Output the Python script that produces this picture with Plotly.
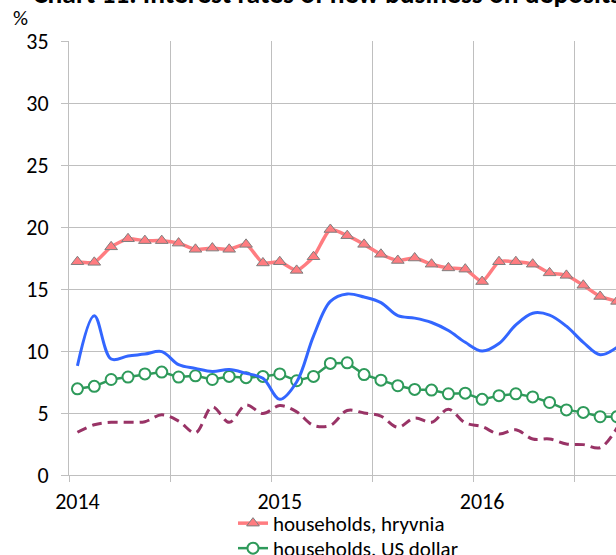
import plotly.graph_objects as go

# Monthly observations, January 2014 onward (x = month index)
months = list(range(33))
year_ticks = [0, 12, 24]
year_labels = ["2014", "2015", "2016"]

hh_uah = [17.2, 17.15, 18.4, 19.05, 18.9, 18.9, 18.7, 18.2, 18.3, 18.2, 18.6,
          17.1, 17.2, 16.5, 17.6, 19.8, 19.3, 18.6, 17.8, 17.3, 17.5, 17.0,
          16.7, 16.6, 15.6, 17.2, 17.2, 17.0, 16.3, 16.1, 15.3, 14.4, 14.0]
hh_usd = [6.95, 7.15, 7.7, 7.9, 8.15, 8.3, 7.9, 8.0, 7.7, 7.95, 7.85,
          7.95, 8.15, 7.6, 7.95, 9.0, 9.05, 8.1, 7.65, 7.2, 6.9, 6.85,
          6.55, 6.6, 6.1, 6.4, 6.55, 6.3, 5.85, 5.25, 5.05, 4.7, 4.7]
corp_uah = [8.8, 12.85, 9.35, 9.6, 9.75, 9.95, 8.9, 8.6, 8.35, 8.5, 8.2,
            7.8, 6.1, 7.5, 11.2, 14.0, 14.6, 14.35, 13.9, 12.85, 12.65, 12.3,
            11.65, 10.7, 10.0, 10.6, 12.1, 13.05, 12.9, 12.0, 10.7, 9.7, 10.3]
corp_usd = [3.45, 4.05, 4.25, 4.25, 4.3, 4.85, 4.35, 3.4, 5.5, 4.25, 5.65,
            4.95, 5.6, 5.1, 4.0, 4.0, 5.2, 5.0, 4.75, 3.85, 4.6, 4.25,
            5.3, 4.2, 3.9, 3.3, 3.65, 2.9, 2.9, 2.5, 2.45, 2.2, 3.8]

FONT = "Carlito, Lato, sans-serif"
GRID = "#BFBFBF"
LEG_FONT = dict(family=FONT, size=21, color="black")

fig = go.Figure()

fig.add_trace(go.Scatter(
    x=months, y=hh_uah, name="households, hryvnia", legend="legend",
    mode="lines+markers",
    line=dict(color="#FF7C80", width=3.5, shape="spline", smoothing=0.6),
    marker=dict(symbol="triangle-up", size=11, color="#FF7C80",
                line=dict(color="#7F7F7F", width=1)),
))
fig.add_trace(go.Scatter(
    x=months, y=hh_usd, name="households, US dollar", legend="legend2",
    mode="lines+markers",
    line=dict(color="#2E9A5A", width=2.5),
    marker=dict(symbol="circle", size=11, color="white",
                line=dict(color="#2E9A5A", width=2)),
))
fig.add_trace(go.Scatter(
    x=months, y=corp_uah, name="corporations, hryvnia", legend="legend3",
    mode="lines",
    line=dict(color="#3366FF", width=3, shape="spline", smoothing=1),
))
fig.add_trace(go.Scatter(
    x=months, y=corp_usd, name="corporations, US dollar", legend="legend3",
    mode="lines",
    line=dict(color="#993366", width=3, shape="spline", smoothing=1,
              dash="10px,6px"),
))


def legend_row(top_px):
    # one legend row anchored at a pixel offset from the figure top
    return dict(
        xref="container", yref="container",
        x=(275 - 42) / 616, xanchor="left",
        y=1 - top_px / 555, yanchor="top",
        font=LEG_FONT, bgcolor="rgba(0,0,0,0)", borderwidth=0,
        tracegroupgap=0,
    )


fig.update_layout(
    width=616, height=555,
    margin=dict(l=69, r=0, t=41, b=80, autoexpand=False),
    paper_bgcolor="white", plot_bgcolor="white",
    font=dict(family=FONT, size=22, color="black"),
    showlegend=True,
    legend=legend_row(503),
    legend2=legend_row(528),
    legend3=legend_row(553),
    annotations=[
        dict(text="<b>Chart 11. Interest rates of new business on deposits</b>",
             xref="paper", yref="paper", x=0.4717, y=1.109,
             xanchor="center", yanchor="middle", showarrow=False,
             font=dict(family=FONT, size=27.5, color="black")),
        dict(text="%", xref="paper", yref="paper",
             x=-0.088, y=1.053, xanchor="center", yanchor="middle",
             showarrow=False, font=dict(family=FONT, size=21, color="black")),
    ],
)

fig.update_xaxes(
    range=[-0.5, 31.94],
    tickmode="array", tickvals=year_ticks, ticktext=year_labels,
    ticks="", showgrid=False, zeroline=False,
    showline=True, linecolor=GRID, linewidth=1,
    ticklabelstandoff=7,
    minor=dict(tick0=-0.5, dtick=6, ticks="outside", ticklen=6,
               tickcolor=GRID, showgrid=True, gridcolor=GRID, gridwidth=1),
)
fig.update_yaxes(
    range=[0, 35], dtick=5,
    ticks="outside", ticklen=7, tickcolor=GRID,
    showgrid=True, gridcolor=GRID, gridwidth=1, zeroline=False,
    showline=True, linecolor=GRID, linewidth=1,
    ticklabelstandoff=8,
)

fig.write_html("out.html")
